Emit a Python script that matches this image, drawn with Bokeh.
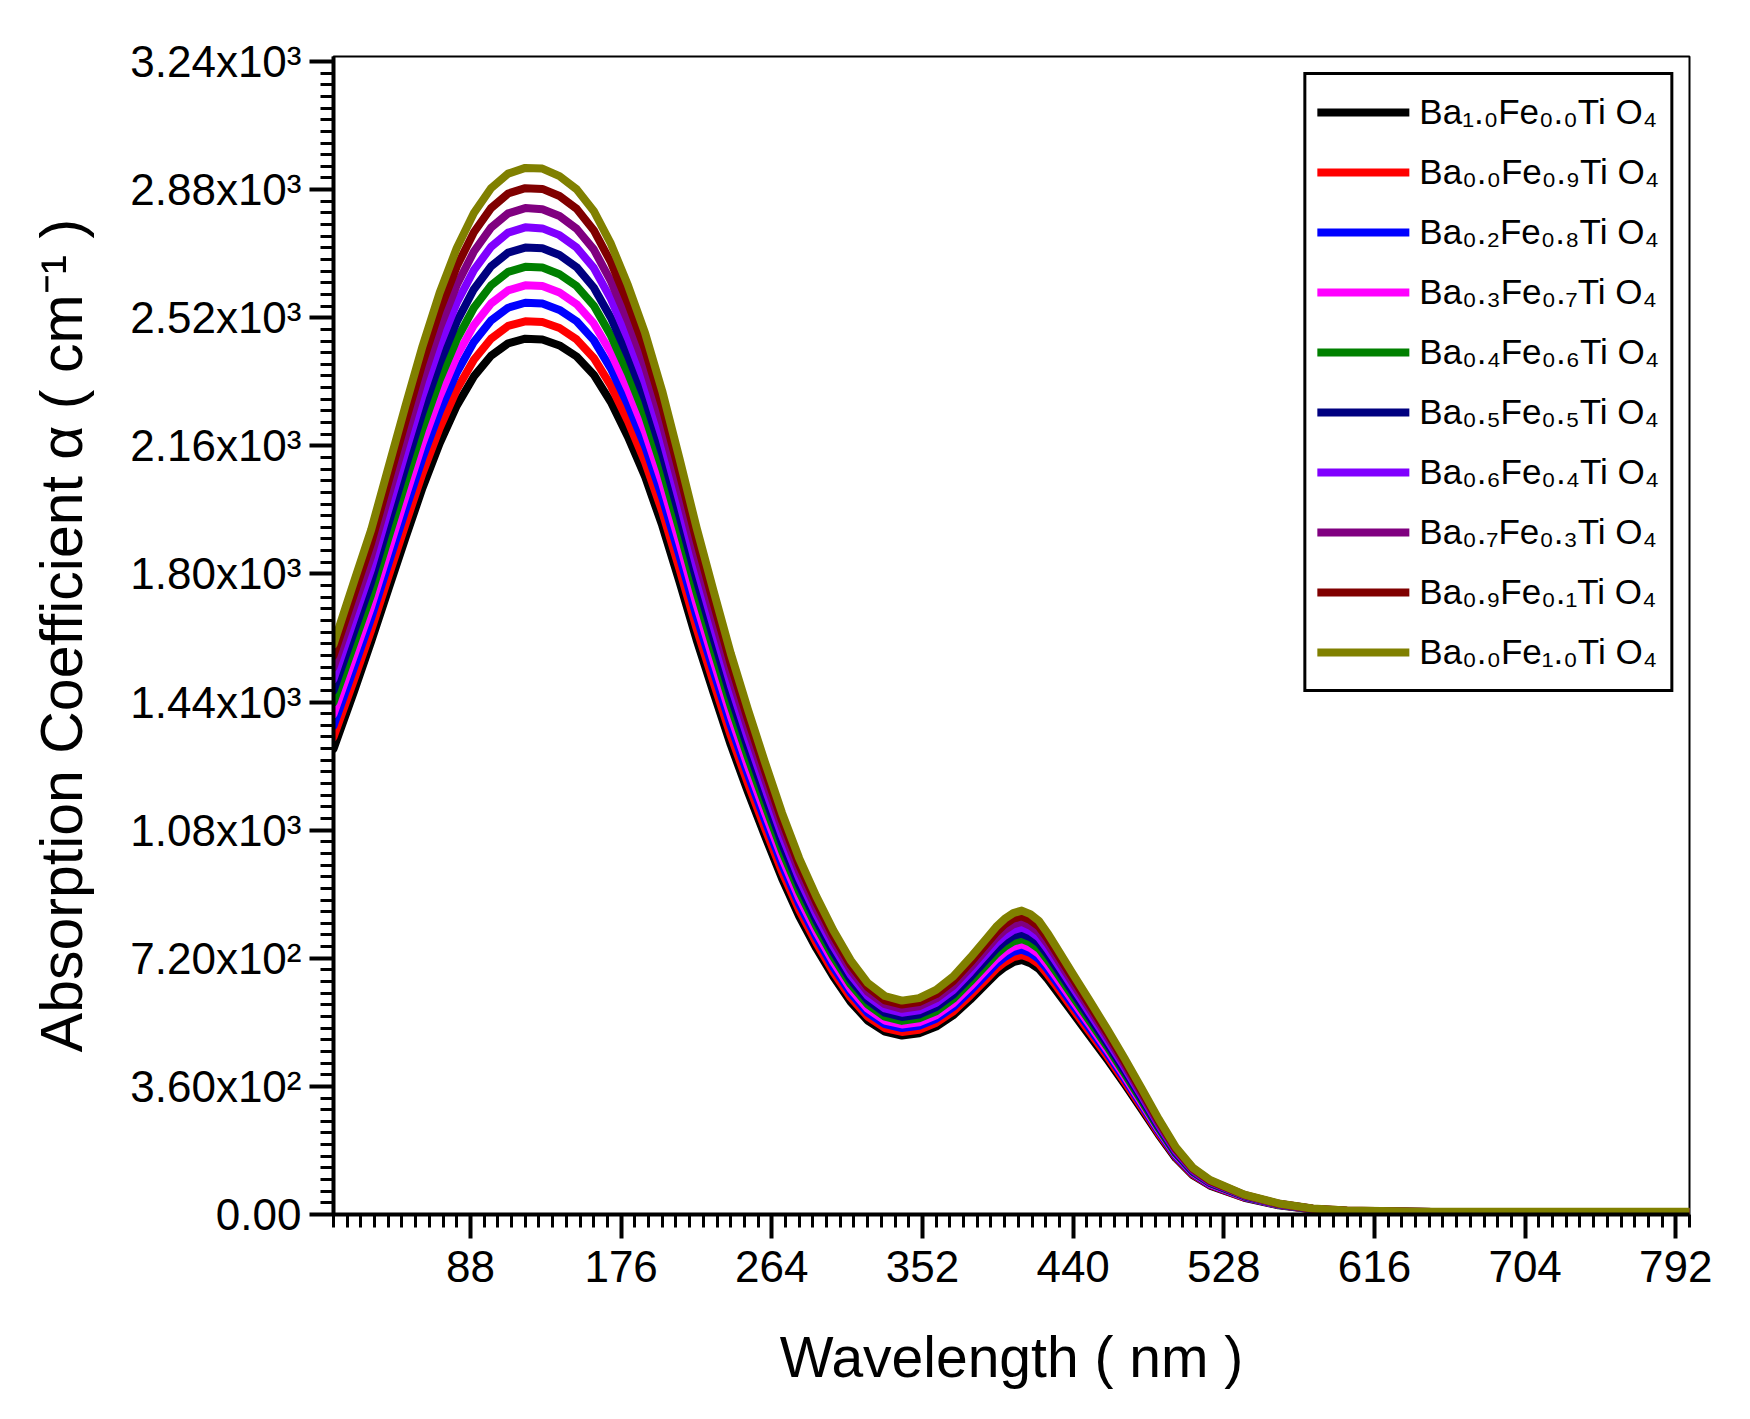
from bokeh.plotting import figure
from bokeh.embed import file_html
from bokeh.resources import INLINE
from bokeh.models import Range1d, SingleIntervalTicker, Legend, LegendItem

# wavelength grid (nm) and absorption coefficient for each composition
wavelength = [8, 20, 30, 40, 50, 60, 70, 80, 90, 100,
              110, 120, 130, 140, 150, 160, 170, 180, 190, 200,
              210, 220, 230, 240, 250, 260, 270, 280, 290, 300,
              310, 320, 330, 340, 350, 360, 370, 380, 390, 395, 400,
              405, 410, 415, 420, 425, 430, 440, 450, 460, 470, 480, 490, 500,
              510, 520, 540, 560, 580, 600, 650, 700, 800]

ba10_fe00 = [1308, 1470, 1610, 1756, 1901, 2042, 2167, 2273, 2355, 2413,
             2448, 2461, 2459, 2442, 2411, 2360, 2283, 2185, 2073, 1936,
             1779, 1616, 1466, 1320, 1188, 1064, 944, 838, 748, 668,
             598, 545, 514, 503, 509, 528, 560, 604, 652, 676, 695,
             709, 715, 706, 690, 662, 630, 565, 500, 435, 367, 296, 224, 158,
             110, 81, 47, 26, 14, 9, 6, 5, 5]
ba00_fe09 = [1341, 1503, 1642, 1791, 1939, 2083, 2210, 2318, 2402, 2461,
             2497, 2510, 2508, 2491, 2459, 2407, 2329, 2229, 2114, 1975,
             1815, 1648, 1495, 1346, 1212, 1085, 963, 855, 763, 681,
             610, 556, 524, 513, 519, 539, 571, 616, 665, 690, 709,
             723, 729, 720, 704, 675, 643, 576, 510, 444, 374, 302, 228, 161,
             112, 83, 48, 27, 14, 9, 6, 5, 5]
ba02_fe08 = [1373, 1537, 1676, 1828, 1979, 2126, 2256, 2366, 2452, 2512,
             2548, 2562, 2560, 2542, 2510, 2457, 2377, 2275, 2158, 2015,
             1852, 1682, 1526, 1374, 1237, 1108, 983, 872, 779, 695,
             623, 567, 535, 524, 530, 550, 583, 629, 679, 704, 723,
             738, 744, 735, 718, 689, 656, 588, 521, 453, 382, 308, 233, 164,
             115, 84, 49, 27, 15, 9, 6, 5, 5]
ba03_fe07 = [1406, 1570, 1708, 1863, 2017, 2167, 2299, 2412, 2499, 2560,
             2597, 2611, 2609, 2591, 2558, 2504, 2422, 2318, 2199, 2054,
             1888, 1715, 1555, 1401, 1260, 1129, 1002, 889, 794, 709,
             634, 578, 545, 534, 540, 560, 594, 641, 692, 717, 737,
             752, 759, 749, 732, 702, 668, 599, 531, 462, 389, 314, 238, 168,
             117, 86, 50, 28, 15, 10, 6, 5, 5]
ba04_fe06 = [1439, 1604, 1742, 1900, 2057, 2209, 2345, 2459, 2548, 2611,
             2649, 2663, 2661, 2642, 2609, 2554, 2470, 2364, 2243, 2095,
             1925, 1749, 1586, 1428, 1285, 1151, 1021, 907, 809, 723,
             647, 590, 556, 544, 551, 571, 606, 654, 705, 731, 752,
             767, 774, 764, 747, 716, 682, 611, 541, 471, 397, 320, 242, 171,
             119, 88, 51, 28, 15, 10, 6, 5, 5]
ba05_fe05 = [1472, 1638, 1777, 1939, 2099, 2254, 2392, 2509, 2600, 2664,
             2703, 2717, 2715, 2696, 2662, 2605, 2520, 2412, 2289, 2137,
             1964, 1784, 1618, 1457, 1312, 1175, 1042, 925, 826, 737,
             660, 602, 567, 555, 562, 583, 618, 667, 720, 746, 767,
             783, 789, 779, 762, 731, 696, 624, 552, 480, 405, 327, 247, 174,
             121, 89, 52, 29, 15, 10, 7, 6, 6]
ba06_fe04 = [1504, 1674, 1814, 1979, 2142, 2301, 2442, 2562, 2654, 2719,
             2759, 2774, 2771, 2752, 2717, 2660, 2573, 2462, 2336, 2182,
             2005, 1821, 1652, 1488, 1339, 1199, 1064, 944, 843, 753,
             674, 614, 579, 567, 574, 595, 631, 681, 735, 762, 783,
             799, 806, 796, 778, 746, 710, 637, 564, 490, 414, 334, 252, 178,
             124, 91, 53, 29, 16, 10, 7, 6, 6]
ba07_fe03 = [1537, 1708, 1850, 2018, 2184, 2346, 2490, 2612, 2706, 2773,
             2813, 2828, 2825, 2806, 2770, 2712, 2623, 2511, 2382, 2224,
             2044, 1857, 1684, 1517, 1365, 1223, 1085, 963, 859, 768,
             687, 626, 591, 578, 585, 607, 643, 694, 749, 777, 799,
             815, 822, 811, 793, 761, 724, 649, 575, 500, 422, 340, 257, 182,
             126, 93, 54, 30, 16, 10, 7, 6, 6]
ba09_fe01 = [1570, 1743, 1887, 2058, 2228, 2393, 2540, 2664, 2760, 2828,
             2869, 2884, 2882, 2862, 2826, 2766, 2676, 2561, 2430, 2269,
             2085, 1894, 1718, 1547, 1392, 1247, 1106, 982, 877, 783,
             701, 639, 602, 590, 597, 619, 656, 708, 764, 792, 815,
             831, 838, 827, 809, 776, 738, 662, 586, 510, 430, 347, 263, 185,
             129, 95, 55, 30, 16, 11, 7, 6, 6]
ba00_fe10 = [1602, 1779, 1924, 2098, 2272, 2440, 2590, 2716, 2814, 2884,
             2925, 2941, 2939, 2918, 2881, 2820, 2728, 2611, 2477, 2314,
             2126, 1931, 1752, 1577, 1420, 1271, 1128, 1001, 894, 798,
             715, 651, 614, 601, 608, 631, 669, 722, 779, 808, 831,
             847, 854, 844, 825, 791, 753, 675, 598, 520, 439, 354, 268, 189,
             131, 97, 56, 31, 17, 11, 8, 8, 8]

labels = ["Ba₁.₀Fe₀.₀Ti O₄", "Ba₀.₀Fe₀.₉Ti O₄", "Ba₀.₂Fe₀.₈Ti O₄", "Ba₀.₃Fe₀.₇Ti O₄",
          "Ba₀.₄Fe₀.₆Ti O₄", "Ba₀.₅Fe₀.₅Ti O₄", "Ba₀.₆Fe₀.₄Ti O₄", "Ba₀.₇Fe₀.₃Ti O₄",
          "Ba₀.₉Fe₀.₁Ti O₄", "Ba₀.₀Fe₁.₀Ti O₄"]
series = [ba10_fe00, ba00_fe09, ba02_fe08, ba03_fe07, ba04_fe06,
          ba05_fe05, ba06_fe04, ba07_fe03, ba09_fe01, ba00_fe10]
colors = ["#000000", "#FF0000", "#0000FF", "#FF00FF", "#008000",
          "#000080", "#8000FF", "#800080", "#800000", "#808000"]

y_ticks = [0, 360, 720, 1080, 1440, 1800, 2160, 2520, 2880, 3240]
y_tick_labels = ["0.00", "3.60x10²", "7.20x10²", "1.08x10³", "1.44x10³",
                 "1.80x10³", "2.16x10³", "2.52x10³", "2.88x10³", "3.24x10³"]

FONT = "Liberation Sans"

p = figure(width=1742, height=1411, x_range=Range1d(8, 800), y_range=Range1d(0, 3254),
           output_backend="svg", toolbar_location=None,
           min_border_left=333, min_border_right=53, min_border_top=56, min_border_bottom=197)
p.grid.visible = False
p.outline_line_color = "black"
p.outline_line_width = 2

items = []
for name, ys, color in zip(labels, series, colors):
    r = p.line(wavelength, ys, line_width=8, color=color, line_cap="round", line_join="round")
    items.append(LegendItem(label=name, renderers=[r]))

legend = Legend(items=items, location="top_right", margin=16, padding=11, spacing=8,
                glyph_width=92, glyph_height=52, label_height=52, label_standoff=10,
                border_line_color="black", border_line_width=3, border_line_alpha=1.0,
                label_text_font=FONT, label_text_font_size="35px", label_text_color="black")
p.add_layout(legend)

p.xaxis.ticker = SingleIntervalTicker(interval=88, num_minor_ticks=11)
p.yaxis.ticker = SingleIntervalTicker(interval=360, num_minor_ticks=11)
p.yaxis.major_label_overrides = dict(zip(y_ticks, y_tick_labels))

for ax in (p.xaxis, p.yaxis):
    ax.axis_line_width = 4
    ax.axis_line_color = "black"
    ax.major_tick_in = 0
    ax.major_tick_out = 24
    ax.minor_tick_in = 0
    ax.minor_tick_out = 13
    ax.major_tick_line_width = 4
    ax.minor_tick_line_width = 3
    ax.major_tick_line_color = "black"
    ax.minor_tick_line_color = "black"
    ax.major_label_text_font = FONT
    ax.major_label_text_font_size = "44px"
    ax.major_label_text_color = "black"
    ax.axis_label_text_font = FONT
    ax.axis_label_text_font_style = "normal"
    ax.axis_label_text_color = "black"

p.xaxis.axis_label = "Wavelength ( nm )"
p.xaxis.axis_label_text_font_size = "57px"
p.xaxis.major_label_standoff = 12
p.xaxis.axis_label_standoff = 40

p.yaxis.axis_label = "Absorption Coefficient α ( cm⁻¹ )"
p.yaxis.axis_label_text_font_size = "59px"
p.yaxis.major_label_standoff = 8
p.yaxis.axis_label_standoff = 32

open("out.html", "w").write(file_html(p, INLINE))
